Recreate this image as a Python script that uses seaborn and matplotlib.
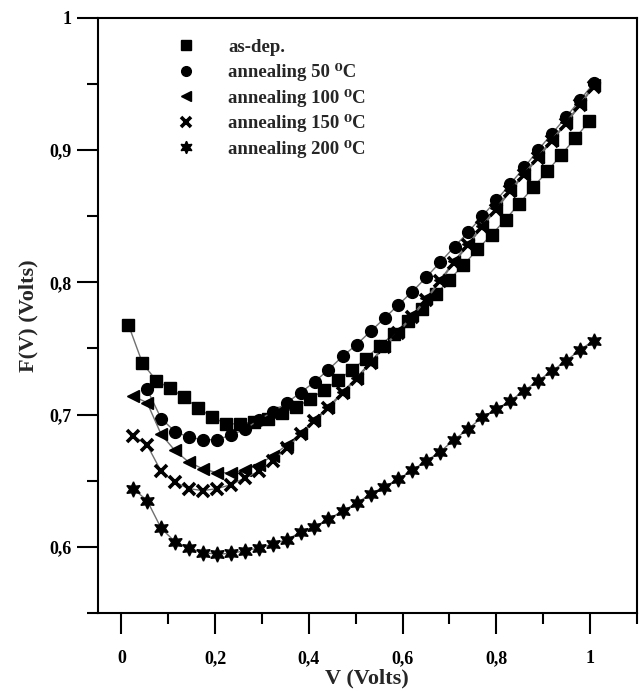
import numpy as np
import pandas as pd
import seaborn as sns
import matplotlib
matplotlib.use("Agg")
import matplotlib.pyplot as plt
from matplotlib.lines import Line2D
from matplotlib.ticker import MultipleLocator, FuncFormatter

sns.set_theme(style="white")
plt.rcParams['font.family'] = ['Liberation Serif', 'DejaVu Serif']
plt.rcParams['font.weight'] = 'bold'

# ---- data ----
x_asdep = [0.015, 0.045, 0.075, 0.104, 0.134, 0.164, 0.194, 0.224, 0.253, 0.283, 0.313, 0.343,
           0.373, 0.402, 0.432, 0.462, 0.492, 0.522, 0.551, 0.581, 0.611, 0.641, 0.671, 0.700,
           0.730, 0.760, 0.790, 0.820, 0.849, 0.879, 0.909, 0.939, 0.969, 0.998]
y_asdep = [0.768, 0.739, 0.7255, 0.720, 0.713, 0.705, 0.698, 0.693, 0.693, 0.6946, 0.697, 0.701,
           0.7054, 0.7117, 0.7185, 0.726, 0.7338, 0.7424, 0.752, 0.7608, 0.771, 0.780, 0.791, 0.802,
           0.813, 0.825, 0.836, 0.8475, 0.8596, 0.872, 0.884, 0.8966, 0.9092, 0.9217]

x_50 = [0.055, 0.085, 0.115, 0.144, 0.174, 0.204, 0.234, 0.264, 0.293, 0.323, 0.353, 0.383,
        0.413, 0.442, 0.472, 0.502, 0.532, 0.562, 0.591, 0.621, 0.651, 0.681, 0.711, 0.740,
        0.770, 0.800, 0.830, 0.860, 0.889, 0.919, 0.949, 0.979, 1.009]
y_50 = [0.719, 0.697, 0.687, 0.683, 0.681, 0.681, 0.6845, 0.689, 0.696, 0.702, 0.709, 0.7167,
        0.725, 0.734, 0.744, 0.753, 0.763, 0.773, 0.783, 0.793, 0.804, 0.8155, 0.827, 0.838,
        0.850, 0.862, 0.8745, 0.887, 0.900, 0.9125, 0.925, 0.938, 0.951]

x_grid = [0.025, 0.055, 0.085, 0.114, 0.144, 0.174, 0.204, 0.234, 0.263, 0.293, 0.323, 0.353,
          0.383, 0.412, 0.442, 0.472, 0.502, 0.532, 0.561, 0.591, 0.621, 0.651, 0.681, 0.710,
          0.740, 0.770, 0.800, 0.830, 0.859, 0.889, 0.919, 0.949, 0.979, 1.008]
y_100 = [0.714, 0.709, 0.685, 0.673, 0.664, 0.659, 0.656, 0.656, 0.658, 0.662, 0.669, 0.677,
         0.686, 0.696, 0.706, 0.717, 0.728, 0.740, 0.752, 0.763, 0.775, 0.788, 0.802, 0.816,
         0.829, 0.843, 0.856, 0.870, 0.882, 0.895, 0.908, 0.921, 0.935, 0.949]
y_150 = [0.684, 0.677, 0.657, 0.649, 0.644, 0.6425, 0.644, 0.647, 0.652, 0.657, 0.665, 0.675,
         0.685, 0.695, 0.705, 0.716, 0.727, 0.739, 0.751, 0.762, 0.774, 0.787, 0.801, 0.815,
         0.828, 0.842, 0.855, 0.869, 0.881, 0.894, 0.907, 0.920, 0.934, 0.948]
y_200 = [0.644, 0.635, 0.614, 0.604, 0.599, 0.5955, 0.5945, 0.595, 0.597, 0.599, 0.602, 0.6055,
         0.611, 0.615, 0.621, 0.627, 0.633, 0.640, 0.6455, 0.651, 0.658, 0.665, 0.672, 0.681,
         0.689, 0.698, 0.704, 0.7104, 0.718, 0.7255, 0.733, 0.7406, 0.749, 0.756]

labels = ["as-dep.", "annealing 50 \u2070C", "annealing 100 \u2070C",
          "annealing 150 \u2070C", "annealing 200 \u2070C"]

series = [
    (x_asdep, y_asdep, 's', 8.5, 1.0, 7.0),
    (x_50, y_50, 'o', 8.5, 1.0, 7.0),
    (x_grid, y_100, '<', 9.0, 1.0, 7.5),
    (x_grid, y_150, 'x', 8.0, 2.6, 7.0),
    (x_grid, y_200, (6, 1, 0), 11, 1.0, 9.0),
]

fig = plt.figure(figsize=(6.4, 6.91), dpi=100)
ax = fig.add_axes([0.153, 0.113, 0.842, 0.861])

handles = []
for (xs, ys, mk, ms, mew, lms), lab in zip(series, labels):
    df = pd.DataFrame({"V": xs, "F": ys})
    sns.lineplot(data=df, x="V", y="F", ax=ax, color="#707070", lw=1.0,
                 marker=mk, markersize=ms, markerfacecolor="black",
                 markeredgecolor="black", markeredgewidth=mew, zorder=3)
    handles.append(Line2D([], [], ls='none', marker=mk, markersize=lms,
                          markerfacecolor="black", markeredgecolor="black",
                          markeredgewidth=mew))

ax.set_xlim(-0.05, 1.1)
ax.set_ylim(0.55, 1.0)

ax.xaxis.set_major_locator(MultipleLocator(0.2))
ax.xaxis.set_minor_locator(MultipleLocator(0.1))
ax.yaxis.set_major_locator(MultipleLocator(0.1))
ax.yaxis.set_minor_locator(MultipleLocator(0.05))

def fmt(v, pos):
    s = f"{v:.1f}"
    if s.endswith(".0"):
        s = s[:-2]
    return s.replace(".", ",")

ax.xaxis.set_major_formatter(FuncFormatter(fmt))
ax.yaxis.set_major_formatter(FuncFormatter(fmt))

ax.tick_params(axis='both', which='major', direction='out', length=15, width=1.5,
               labelsize=13, color='black', labelcolor='black', pad=4)
ax.tick_params(axis='both', which='minor', direction='out', length=8, width=1.5,
               color='black')
ax.tick_params(axis='x', which='major', pad=12)
ax.tick_params(bottom=True, left=True, which='both')
for lab in ax.get_xticklabels() + ax.get_yticklabels():
    lab.set_fontweight('bold')

for sp in ax.spines.values():
    sp.set_color('black')
    sp.set_linewidth(1.5)

ax.set_xlabel("V (Volts)", fontsize=16, fontweight='bold', labelpad=1)
ax.set_ylabel("F(V) (Volts)", fontsize=16, fontweight='bold', labelpad=8)

ax.legend(handles=handles, labels=labels, loc='upper left',
          bbox_to_anchor=(0.146, 0.965), frameon=False, borderpad=0,
          borderaxespad=0, handlelength=1.0, handletextpad=1.75,
          labelspacing=0.40, prop={'size': 13.5, 'weight': 'bold'})

fig.savefig("out.png", dpi=100)
